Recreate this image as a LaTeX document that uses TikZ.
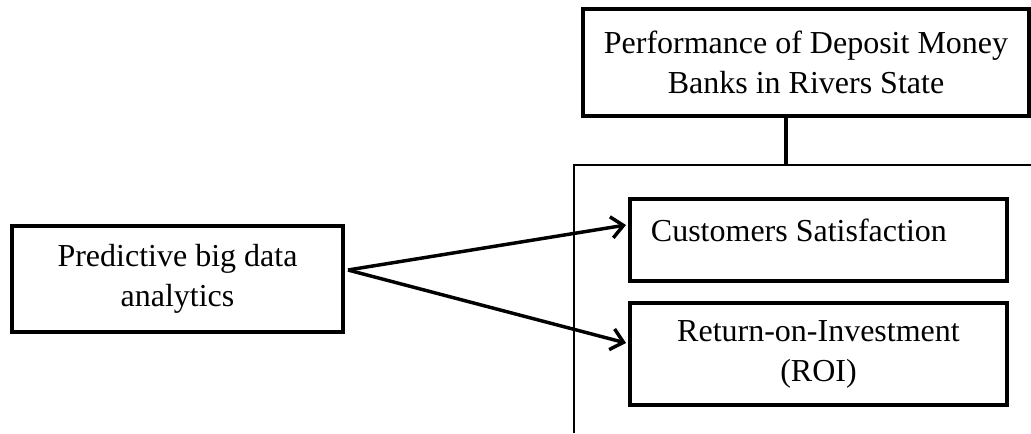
\documentclass[tikz,border=0pt]{standalone}
\usepackage{fontspec}
\setmainfont{Liberation Serif}
\usetikzlibrary{arrows.meta,calc}
\tikzset{
	kasten/.style = {draw, line width = 3pt, inner sep = 0pt, align = center, font = \fontsize{24}{30}\selectfont},
	pfeil/.style = {-{Straight Barb[length = 9pt, width = 16pt]}, line width = 2.6pt},
}
\begin{document}
\begin{tikzpicture}[x = 0.75pt, y = -0.75pt]
	\useasboundingbox ( 0, 0 ) rectangle ( 1031, 433 );
	% Rahmen um die Teilgroessen
	\coordinate (links) at ( 574, 433 );
	\coordinate (ecke) at ( 574, 165 );
	\coordinate (rechts) at ( 1031, 165 );
	\coordinate (oben) at ( 786, 165 );
	\draw [line width = 1.5pt] (links) -- (ecke) -- (rechts);
	\node [kasten, minimum width = 248.25pt, minimum height = 79.5pt] (pbd) at ( 177.5, 279 ) {Predictive big data\\analytics};
	\node [kasten, minimum width = 334.5pt, minimum height = 80.25pt] (perf) at ( 806, 62.5 ) {Performance of Deposit Money\\Banks in Rivers State};
	\node [kasten, minimum width = 282.75pt, minimum height = 61.5pt, label = {[anchor = west, inner sep = 0pt, xshift = 17pt, yshift = 7.5pt, font = \fontsize{24}{30}\selectfont]west:Customers Satisfaction}] (cs) at ( 818.5, 240 ) {};
	\node [kasten, minimum width = 282.75pt, minimum height = 76.5pt] (roi) at ( 818.5, 354 ) {Return-on-Investment\\(ROI)};
	\coordinate (src) at ( 348, 270 );
	\draw [line width = 3.5pt] ($(perf.south) + (-20, 0)$) -- (oben);
	\draw [pfeil] (src) -- ($(cs.west) + (-2, -15)$);
	\draw [pfeil] (src) -- ($(roi.west) + (-2, -11)$);
\end{tikzpicture}
\end{document}
